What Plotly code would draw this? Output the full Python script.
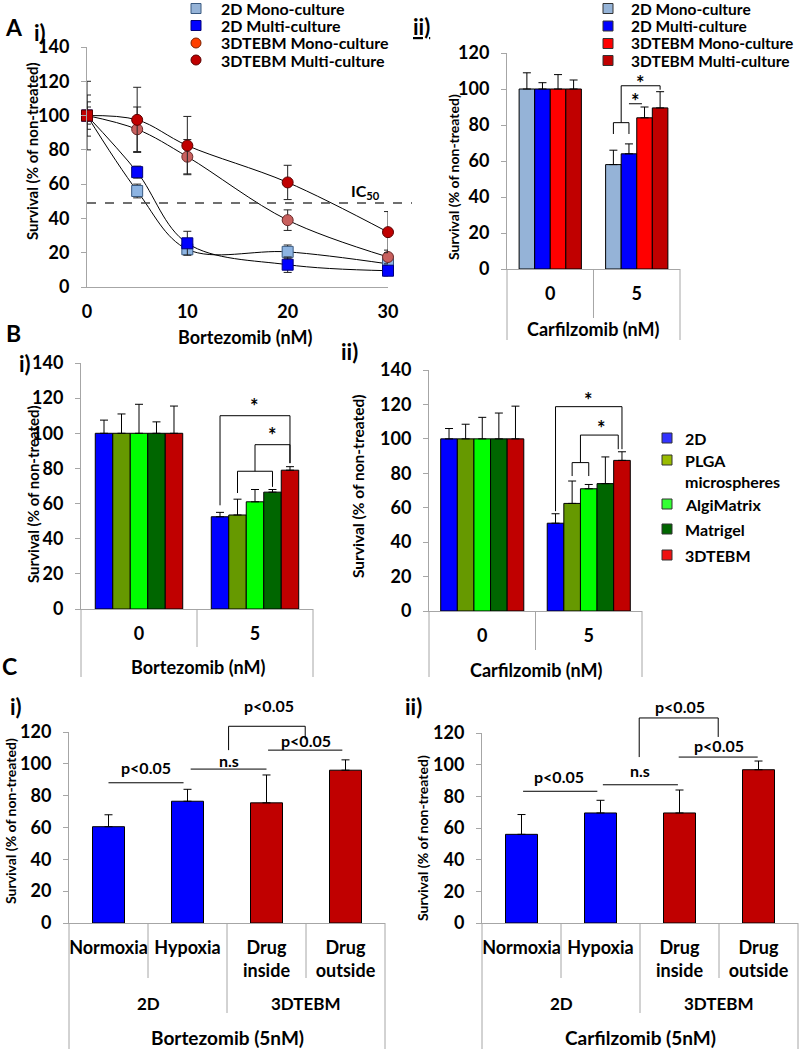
import plotly.graph_objects as go

W, H = 800, 1049
FONT = "Lato"
AX = "#A6A6A6"

# ---------------- data ----------------
# Panel A i : dose-response (Bortezomib)
a1_dose = [0, 5, 10, 20, 30]
a1_names = ["2D Mono-culture", "2D Multi-culture", "3DTEBM Mono-culture", "3DTEBM Multi-culture"]
a1_2d_mono = [100, 56, 22, 20.5, 13.5]
a1_2d_mono_err = [5, 4, 3, 4, 3]
a1_2d_multi = [100, 67, 25.5, 13, 9.5]
a1_2d_multi_err = [8, 3.5, 7, 4.5, 3]
a1_3d_mono = [100, 92, 76, 39, 17.5]
a1_3d_mono_err = [12, 13, 10, 6, 4]
a1_3d_multi = [100, 97.5, 82.5, 61, 32]
a1_3d_multi_err = [20, 19, 17, 10, 12]
a1_ic50 = 49
a1_xticks = [0, 10, 20, 30]

# Panel A ii : Carfilzomib, culture types
a2_cats = ["0", "5"]
a2_2d_mono = [100, 58]
a2_2d_mono_err = [9, 8]
a2_2d_multi = [100, 64]
a2_2d_multi_err = [3.5, 5.5]
a2_3d_mono = [100, 84]
a2_3d_mono_err = [8, 6]
a2_3d_multi = [100, 89.5]
a2_3d_multi_err = [5, 9]

# Panel B : scaffolds
b_cats = ["0", "5"]
b_names = ["2D", "PLGA<br>microspheres", "AlgiMatrix", "Matrigel", "3DTEBM"]
b1_2d = [100, 52.5]
b1_2d_err = [7.5, 2.5]
b1_plga = [100, 53.5]
b1_plga_err = [11, 9]
b1_algi = [100, 61]
b1_algi_err = [16.5, 7]
b1_matri = [100, 66.5]
b1_matri_err = [6.5, 1.5]
b1_teb = [100, 79]
b1_teb_err = [15.5, 2]
b2_2d = [100, 51]
b2_2d_err = [6, 5.5]
b2_plga = [100, 62.5]
b2_plga_err = [8.5, 13]
b2_algi = [100, 71]
b2_algi_err = [12.5, 2.5]
b2_matri = [100, 74]
b2_matri_err = [15, 15.5]
b2_teb = [100, 87.5]
b2_teb_err = [19, 5]

# Panel C : hypoxia / drug location
c_cats = ["Normoxia", "Hypoxia", "Drug<br>inside", "Drug<br>outside"]
c_groups = ["2D", "3DTEBM"]
c1_vals = [60.5, 76.5, 75.5, 96]
c1_err = [7.5, 7.5, 17.5, 6.5]
c2_vals = [56, 69.5, 69.5, 96.8]
c2_err = [12.5, 8, 14.5, 5.5]

# ---------------- colours ----------------
COL_A = ["#95B3D7", "#0000FF", "#FF0000", "#C00000"]
COL_B = ["#0000FF", "#669900", "#00FF00", "#006600", "#C00000"]
COL_B_LEG = ["#3333FF", "#99BB00", "#33FF33", "#006600", "#EE1111"]
COL_C = ["#0000FF", "#0000FF", "#C00000", "#C00000"]

# ---------------- geometry (pixels) ----------------
BOX = {
    "A1": (87, 388, 47, 287, [0, 30], [0, 140]),
    "A2": (507, 680, 53, 269, [-0.5, 1.5], [0, 120]),
    "B1": (81, 313, 363, 609, [-0.5, 1.5], [0, 140]),
    "B2": (429, 642, 370, 611, [-0.5, 1.5], [0, 140]),
    "C1": (69, 385, 732, 923, [-0.5, 3.5], [0, 120]),
    "C2": (482, 798, 733, 923, [-0.5, 3.5], [0, 120]),
}


def mapper(key):
    x0, x1, y0, y1, xr, yr = BOX[key]
    fx = lambda v: (x0 + (v - xr[0]) / (xr[1] - xr[0]) * (x1 - x0)) / W
    fy = lambda v: 1 - (y1 - (v - yr[0]) / (yr[1] - yr[0]) * (y1 - y0)) / H
    return fx, fy


def dom(key):
    x0, x1, y0, y1, xr, yr = BOX[key]
    return [x0 / W, x1 / W], [1 - y1 / H, 1 - y0 / H]


shapes, annotations = [], []


def path(pts_paper, color="black", width=1, dash=None):
    d = "M " + " L ".join(f"{x:.5f},{y:.5f}" for x, y in pts_paper)
    shapes.append(dict(type="path", path=d, xref="paper", yref="paper",
                       line=dict(color=color, width=width, dash=dash)))


def dpath(key, pts, **kw):
    fx, fy = mapper(key)
    path([(fx(x), fy(y)) for x, y in pts], **kw)


def txt(x, y, s, size=15, xanchor="center", yanchor="middle", angle=0, align="center"):
    annotations.append(dict(x=x, y=y, xref="paper", yref="paper", text=s, showarrow=False,
                            font=dict(family=FONT, size=size, color="black", weight="bold"),
                            xanchor=xanchor, yanchor=yanchor, textangle=angle, align=align))


def ptxt(px, py, s, **kw):
    txt(px / W, 1 - py / H, s, **kw)


def dtxt(key, x, y, s, **kw):
    fx, fy = mapper(key)
    txt(fx(x), fy(y), s, **kw)


def glyph(kind, cx, cy, size, fill, line):
    shapes.append(dict(type=kind, xref="paper", yref="paper",
                       x0=(cx - size / 2) / W, x1=(cx + size / 2) / W,
                       y0=1 - (cy + size / 2) / H, y1=1 - (cy - size / 2) / H,
                       fillcolor=fill, line=dict(color=line, width=1)))


def bar_center(cat, i, n, gap):
    gw = 1 - gap
    return cat - gw / 2 + (i + 0.5) * gw / n


fig = go.Figure()

# ---------------- Panel A i ----------------
a1_series = [
    (a1_2d_mono, a1_2d_mono_err, "square", "#8DB4E2", "#3A5A80"),
    (a1_2d_multi, a1_2d_multi_err, "square", "#0000FF", "#00007A"),
    (a1_3d_mono, a1_3d_mono_err, "circle", "#C8605E", "#6B2A2A"),
    (a1_3d_multi, a1_3d_multi_err, ["square", "circle", "circle", "circle", "circle"], "#C00000", "#5A0000"),
]
for (vals, err, sym, fc, lc), name in zip(a1_series, a1_names):
    fig.add_trace(go.Scatter(
        x=a1_dose, y=vals, name=name, mode="lines+markers", xaxis="x", yaxis="y", showlegend=False,
        line=dict(color="black", width=1, shape="spline", smoothing=1),
        marker=dict(symbol=sym, size=11, color=fc, line=dict(color=lc, width=1)),
        error_y=dict(type="data", array=err, color="#222222", thickness=1, width=4),
        cliponaxis=False))

# legend A i (drawn as glyph + label)
a1_leg = [("rect", "#95B3D7", "#3A5A80"), ("rect", "#0000FF", "#00007A"),
          ("circle", "#FF4000", "#7A2000"), ("circle", "#C00000", "#5A0000")]
for k, (name, (kind, fc, lc)) in enumerate(zip(a1_names, a1_leg)):
    cy = [8.5, 25.5, 43, 60][k]
    glyph(kind, 196, cy, 10, fc, lc)
    ptxt(219, cy, name, size=16, xanchor="left")

fx, fy = mapper("A1")
path([(fx(0), fy(a1_ic50)), (412 / W, fy(a1_ic50))], color="#404040", width=1.5, dash="dash")
dtxt("A1", 27.8, 56, "IC<sub>50</sub>", size=16)

# ---------------- Panel A ii ----------------
gapA = 0.28
a2_data = [(a2_2d_mono, a2_2d_mono_err), (a2_2d_multi, a2_2d_multi_err),
           (a2_3d_mono, a2_3d_mono_err), (a2_3d_multi, a2_3d_multi_err)]
for i, ((vals, err), name) in enumerate(zip(a2_data, a1_names)):
    gw = 1 - gapA
    fig.add_trace(go.Bar(
        x=[0, 1], y=vals, name=name, xaxis="x2", yaxis="y2", showlegend=False,
        width=gw / 4, offset=-gw / 2 + i * gw / 4,
        marker=dict(color=COL_A[i], line=dict(color="black", width=1)),
        error_y=dict(type="data", symmetric=False, array=err, arrayminus=[0, 0],
                     color="black", thickness=1, width=4)))
    cy = [8.5, 26, 43.5, 60.5][i]
    glyph("rect", 608, cy, 10, COL_A[i], "#333333")
    ptxt(629, cy, name, size=15.5, xanchor="left")

# significance brackets A ii
cA = lambda i: bar_center(1, i, 4, gapA)
mid01 = (cA(0) + cA(1)) / 2
dpath("A2", [(cA(0), 75), (cA(0), 81.3), (cA(1), 81.3), (cA(1), 75)])
dpath("A2", [(mid01, 81.3), (mid01, 101.8), (cA(3), 101.8), (cA(3), 99.6)])
dpath("A2", [(cA(1), 91.8), (cA(2) - 0.03, 91.8)])
dtxt("A2", (mid01 + cA(3)) / 2, 103.5, "*", size=20)
dtxt("A2", (cA(1) + cA(2)) / 2 - 0.01, 93.5, "*", size=20)

# ---------------- Panel B ----------------
gapB1, gapB2 = 0.246, 0.22
b1_data = [(b1_2d, b1_2d_err), (b1_plga, b1_plga_err), (b1_algi, b1_algi_err),
           (b1_matri, b1_matri_err), (b1_teb, b1_teb_err)]
b2_data = [(b2_2d, b2_2d_err), (b2_plga, b2_plga_err), (b2_algi, b2_algi_err),
           (b2_matri, b2_matri_err), (b2_teb, b2_teb_err)]
for ax, data, gap in (("3", b1_data, gapB1), ("4", b2_data, gapB2)):
    gw = 1 - gap
    for i, ((vals, err), name) in enumerate(zip(data, b_names)):
        fig.add_trace(go.Bar(
            x=[0, 1], y=vals, name=name, xaxis="x" + ax, yaxis="y" + ax, showlegend=False,
            width=gw / 5, offset=-gw / 2 + i * gw / 5,
            marker=dict(color=COL_B[i], line=dict(color="black", width=1)),
            error_y=dict(type="data", symmetric=False, array=err, arrayminus=[0, 0],
                         color="black", thickness=1, width=4)))

# legend B
for i, name in enumerate(b_names):
    cy = [438, 460, 504, 529, 555][i]
    glyph("rect", 667, cy, 10, COL_B_LEG[i], "#333333")
    ty = cy if "<br>" not in name else cy + 10.5
    ptxt(683, ty, name, size=16, xanchor="left", align="left")

# B i brackets
cB = lambda i: bar_center(1, i, 5, gapB1)
dpath("B1", [(cB(0), 59), (cB(0), 110), (cB(4), 110), (cB(4), 83)])
dpath("B1", [(cB(1), 66), (cB(1), 78.4), (cB(3), 78.4), (cB(3), 69.5)])
dpath("B1", [(cB(2), 78.4), (cB(2), 93.5), (cB(4), 93.5), (cB(4), 83)])
dtxt("B1", (cB(0) + cB(4)) / 2, 115.5, "*", size=20)
dtxt("B1", (cB(2) + cB(4)) / 2, 99, "*", size=20)

# B ii brackets
cB2 = lambda i: bar_center(1, i, 5, gapB2)
mid12 = (cB2(1) + cB2(2)) / 2
dpath("B2", [(cB2(0), 58), (cB2(0), 118.7), (cB2(4), 118.7), (cB2(4), 94)])
dpath("B2", [(cB2(1), 78.4), (cB2(1), 86.2), (cB2(2), 86.2), (cB2(2), 78.4)])
dpath("B2", [(mid12, 86.2), (mid12, 102.2), (cB2(4) - 0.035, 102.2), (cB2(4) - 0.035, 94)])
dtxt("B2", (cB2(0) + cB2(4)) / 2, 122.5, "*", size=20)
dtxt("B2", (mid12 + cB2(4)) / 2, 106.5, "*", size=20)

# ---------------- Panel C ----------------
for ax, vals, err in (("5", c1_vals, c1_err), ("6", c2_vals, c2_err)):
    fig.add_trace(go.Bar(
        x=[0, 1, 2, 3], y=vals, xaxis="x" + ax, yaxis="y" + ax, showlegend=False,
        width=0.405, marker=dict(color=COL_C, line=dict(color="black", width=1)),
        error_y=dict(type="data", symmetric=False, array=err, arrayminus=[0, 0, 0, 0],
                     color="black", thickness=1, width=4)))

# C i significance
dpath("C1", [(0, 88.1), (0.95, 88.1)])
dtxt("C1", 0.48, 97.5, "p&lt;0.05", size=16)
dpath("C1", [(1.04, 96.7), (2.0, 96.7)])
dtxt("C1", 1.52, 102, "n.s", size=16)
dpath("C1", [(1.52, 108.6), (1.52, 123.6), (2.49, 123.6), (2.49, 115.4)])
dtxt("C1", 2.03, 136.5, "p&lt;0.05", size=16)
dpath("C1", [(2.02, 108.6), (2.96, 108.6)])
dtxt("C1", 2.5, 114.5, "p&lt;0.05", size=16)

# C ii significance
dpath("C2", [(0.02, 83.2), (0.96, 83.2)])
dtxt("C2", 0.47, 92.5, "p&lt;0.05", size=16)
dpath("C2", [(1.03, 87.3), (1.98, 87.3)])
dtxt("C2", 1.5, 96.5, "n.s", size=16)
dpath("C2", [(1.49, 104.8), (1.49, 129.5), (2.49, 129.5), (2.49, 117.5)])
dtxt("C2", 2.0, 137, "p&lt;0.05", size=16)
dpath("C2", [(1.99, 104.8), (2.99, 104.8)])
dtxt("C2", 2.5, 112, "p&lt;0.05", size=16)

# ---------------- category separators / multi-level labels ----------------
def vline(key, xval, py_bottom):
    fx, fy = mapper(key)
    y1 = BOX[key][3]
    path([(fx(xval), 1 - y1 / H), (fx(xval), 1 - py_bottom / H)], color=AX, width=1)

for key, bot_outer, bot_mid in (("A2", 340, 318), ("B1", 677, 647), ("B2", 677, 650)):
    vline(key, -0.5, bot_outer)
    vline(key, 0.5, bot_mid)
    vline(key, 1.5, bot_outer)

for key in ("C1", "C2"):
    vline(key, -0.5, 1049)
    vline(key, 0.5, 978)
    vline(key, 1.5, 1013)
    vline(key, 2.5, 978)
    vline(key, 3.5, 1049)
    fx, fy = mapper(key)
    for gi, g in enumerate(c_groups):
        txt(fx(0.5 + 2 * gi), 1 - 1003 / H, g, size=17)

# axis titles
ptxt(245, 337, "Bortezomib (nM)", size=18)
ptxt(593, 329, "Carfilzomib (nM)", size=18)
ptxt(198, 667, "Bortezomib (nM)", size=18)
ptxt(536, 670, "Carfilzomib (nM)", size=18)
ptxt(227, 1037, "Bortezomib (5nM)", size=19)
ptxt(640, 1037, "Carfilzomib (5nM)", size=19)

ytitle = "Survival (% of non-treated)"
ptxt(32, 151, ytitle, size=15, angle=-90)
ptxt(453, 177, ytitle, size=14, angle=-90)
ptxt(33, 494, ytitle, size=15, angle=-90)
ptxt(358, 486, ytitle, size=15.5, angle=-90)
ptxt(10, 821, ytitle, size=14, angle=-90)
ptxt(422, 838, ytitle, size=14, angle=-90)

# panel labels
ptxt(14, 27, "A", size=23)
ptxt(40, 32, "i)", size=22)
ptxt(421, 27, "<u>ii)</u>", size=22)
ptxt(13, 333, "B", size=23)
ptxt(25, 363, "i)", size=22)
ptxt(349, 352, "ii)", size=22)
ptxt(9, 666, "C", size=23)
ptxt(16, 706, "i)", size=22)
ptxt(413, 706, "ii)", size=22)

# ---------------- axes ----------------
TF = dict(family=FONT, size=18, color="black", weight="bold")


def yax(key, dtick, anchor):
    dx, dy = dom(key)
    return dict(domain=dy, range=BOX[key][5], dtick=dtick, showline=True, linecolor=AX,
                linewidth=1, ticks="outside", ticklen=5, tickcolor=AX, showgrid=False,
                zeroline=False, tickfont=TF, anchor=anchor, ticklabelstandoff=8,
                fixedrange=True, automargin=False)


def xax(key, tickvals, ticktext, anchor, standoff=8):
    dx, dy = dom(key)
    return dict(domain=dx, range=BOX[key][4], tickvals=tickvals, ticktext=ticktext,
                showline=True, linecolor=AX, linewidth=1, ticks="", showgrid=False,
                zeroline=False, tickfont=TF, anchor=anchor, ticklabelstandoff=standoff,
                fixedrange=True, automargin=False)


layout = dict(
    width=W, height=H, margin=dict(l=0, r=0, t=0, b=0, pad=0, autoexpand=False),
    paper_bgcolor="white", plot_bgcolor="white",
    font=dict(family=FONT, color="black", weight="bold"),
    shapes=shapes, annotations=annotations, showlegend=False,
    xaxis=xax("A1", a1_xticks, [str(v) for v in a1_xticks], "y"),
    yaxis=yax("A1", 20, "x"),
    xaxis2=xax("A2", [0, 1], a2_cats, "y2"),
    yaxis2=yax("A2", 20, "x2"),
    xaxis3=xax("B1", [0, 1], b_cats, "y3"),
    yaxis3=yax("B1", 20, "x3"),
    xaxis4=xax("B2", [0, 1], b_cats, "y4"),
    yaxis4=yax("B2", 20, "x4"),
    xaxis5=xax("C1", [0, 1, 2, 3], c_cats, "y5"),
    yaxis5=yax("C1", 20, "x5"),
    xaxis6=xax("C2", [0, 1, 2, 3], c_cats, "y6"),
    yaxis6=yax("C2", 20, "x6"),
)
fig.update_layout(**layout)
fig.write_html("out.html", config={"displayModeBar": False},
               post_script="document.body.style.margin='0';document.body.style.overflow='hidden';")
